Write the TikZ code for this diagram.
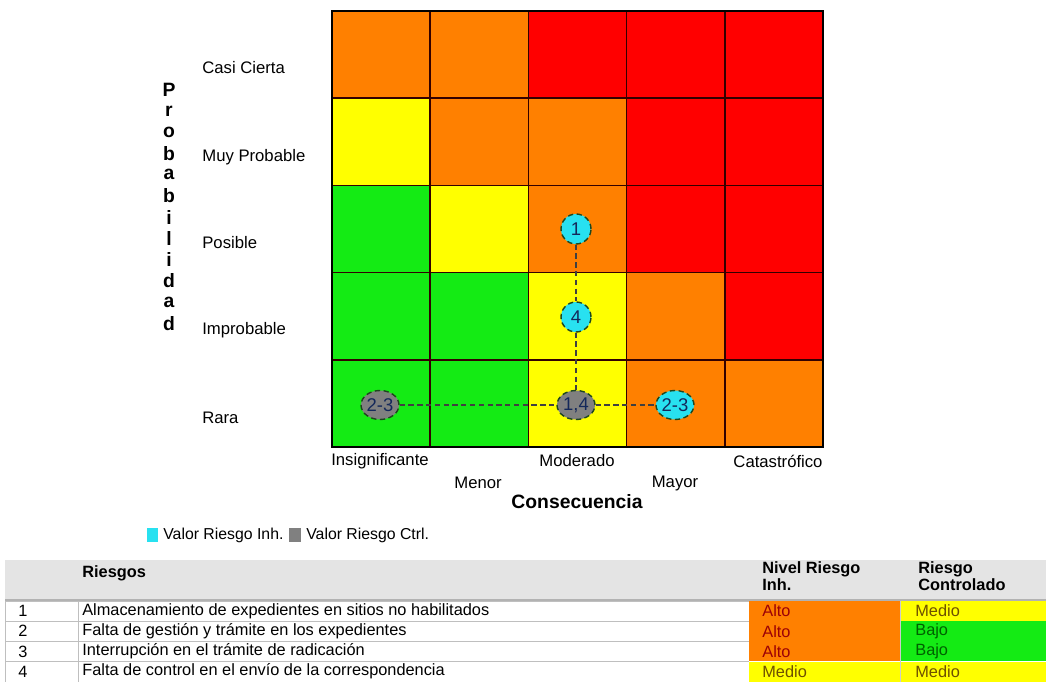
\documentclass[tikz,border=0pt]{standalone}
\usepackage{fontspec}
\setmainfont{Liberation Sans}
\usetikzlibrary{shapes.geometric}
\definecolor{naranja}{RGB}{255,128,0}
\definecolor{rojo}{RGB}{255,0,0}
\definecolor{amarillo}{RGB}{255,255,0}
\definecolor{verde}{RGB}{20,235,20}
\definecolor{cian}{RGB}{40,225,240}
\definecolor{gris}{RGB}{128,128,128}
\definecolor{bandagris}{RGB}{228,228,228}
\definecolor{txtalto}{RGB}{156,0,6}
\definecolor{txtmedio}{RGB}{110,80,0}
\definecolor{txtbajo}{RGB}{0,97,0}
\tikzset{
  lbl/.style={font=\fontsize{9.5}{11}\selectfont,inner sep=0pt},
  tbl/.style={font=\fontsize{9.3}{10}\selectfont,inner sep=0pt,anchor=west},
  tblhead/.style={font=\fontsize{9.3}{10}\selectfont\bfseries,inner sep=0pt,anchor=west,align=left},
  marca/.style={draw={rgb,255:red,30;green,70;blue,30},densely dashed,thick,
                font=\fontsize{10.5}{12}\selectfont,text={rgb,255:red,20;green,40;blue,90},inner sep=0pt},
  redonda/.style={marca,circle,minimum size=0.6cm},
  ovalo/.style={marca,ellipse,minimum width=0.76cm,minimum height=0.58cm}
}
\begin{document}
\begin{tikzpicture}[x=0.02cm,y=-0.02cm]
       \useasboundingbox (0,0) rectangle (1046,682);
       % Color the cells of the matrix, top row first
       \foreach \fila/\lista in {0/{naranja,naranja,rojo,rojo,rojo},
                                 1/{amarillo,naranja,naranja,rojo,rojo},
                                 2/{verde,amarillo,naranja,rojo,rojo},
                                 3/{verde,verde,amarillo,naranja,rojo},
                                 4/{verde,verde,amarillo,naranja,naranja}}
         \foreach \clr [count=\col from 0] in \lista
           \fill[\clr] ({332+\col*98.2},{11+\fila*87.2}) rectangle ++(98.2,87.2);
       % Inner lines and the outline
       \foreach \col in {1,...,4}
         \draw[line width=0.9pt,black!80!red] ({332+\col*98.2},11) -- ({332+\col*98.2},447);
       \foreach \fila in {1,...,4}
         \draw[line width=0.9pt,black!80!red] (332,{11+\fila*87.2}) -- (823,{11+\fila*87.2});
       \draw[line width=1.6pt] (332,11) rectangle (823,447);

       % Probability levels
       \node[lbl,anchor=west] (casi) at (202,68) {Casi Cierta};
       \node[lbl,anchor=west] (muy) at (202,157) {Muy Probable};
       \node[lbl,anchor=west] (posible) at (202,243) {Posible};
       \node[lbl,anchor=west] (improb) at (202,330) {Improbable};
       \node[lbl,anchor=west] (rara) at (202,418) {Rara};
       \foreach \letra [count=\i from 0] in {P,r,o,b,a,b,i,l,i,d,a,d}
         \node[font=\fontsize{11}{12}\selectfont\bfseries,inner sep=0pt] (prob\i) at (169,{90+\i*21.2}) {\letra};

       % Consequence levels
       \node[lbl] (insig) at (380,461) {Insignificante};
       \node[lbl] (menor) at (478,483) {Menor};
       \node[lbl] (moder) at (577,461) {Moderado};
       \node[lbl] (mayor) at (675,483) {Mayor};
       \node[lbl] (catas) at (778,461) {Catastrófico};
       \node[font=\fontsize{11}{13}\selectfont\bfseries,inner sep=0pt] (consec) at (577,502) {Consecuencia};

       % Risk markers
       \node[redonda,fill=cian] (inh1) at (576,229) {1};
       \node[redonda,fill=cian] (inh4) at (576,317) {4};
       \node[ovalo,fill=gris] (ctl14) at (576,405) {1,4};
       \node[ovalo,fill=gris] (ctl23) at (380,405) {2-3};
       \node[ovalo,fill=cian] (inh23) at (675,405) {2-3};
       \draw[densely dashed,thick,black!75] (inh1) -- (inh4) -- (ctl14);
       \draw[densely dashed,thick,black!75] (ctl23) -- (ctl14) -- (inh23);

       % Legend
       \fill[cian] (147,528) rectangle (158,542);
       \node[lbl,anchor=west,font=\fontsize{9}{10}\selectfont] (leginh) at (163,535) {Valor Riesgo Inh.};
       \fill[gris] (289,528) rectangle (301,542);
       \node[lbl,anchor=west,font=\fontsize{9}{10}\selectfont] (legctl) at (306,535) {Valor Riesgo Ctrl.};

       % Table header band
       \fill[bandagris] (5,560) rectangle (1046,600);
       \node[tblhead] (hriesgos) at (82,573) {Riesgos};
       \node[tblhead] (hnivel) at (762,576) {Nivel Riesgo\\Inh.};
       \node[tblhead] (hctrl) at (918,576) {Riesgo\\Controlado};
       % Table rows
       \foreach \n/\txt/\ci/\ti/\tci/\cc/\tc/\tcc [count=\k from 0] in
         {1/Almacenamiento de expedientes en sitios no habilitados/naranja/Alto/txtalto/amarillo/Medio/txtmedio,
          2/Falta de gestión y trámite en los expedientes/naranja/Alto/txtalto/verde/Bajo/txtbajo,
          3/Interrupción en el trámite de radicación/naranja/Alto/txtalto/verde/Bajo/txtbajo,
          4/Falta de control en el envío de la correspondencia/amarillo/Medio/txtmedio/amarillo/Medio/txtmedio}
       {
         \fill[\ci] (749,{601+\k*20.2}) rectangle (900,{621+\k*20.2});
         \fill[\cc] (900,{601+\k*20.2}) rectangle (1046,{621+\k*20.2});
         \draw[gray!50] (5,{601+\k*20.2}) -- (749,{601+\k*20.2});
         \node[tbl] (num\n) at (18,{611+\k*20.2}) {\n};
         \node[tbl] (riesgo\n) at (82,{611+\k*20.2}) {\txt};
         \node[tbl,text=\tci] (inh\n) at (762,{611+\k*20.2}) {\ti};
         \node[tbl,text=\tcc] (ctl\n) at (915,{611+\k*20.2}) {\tc};
       }
       \draw[gray!60,line width=0.8pt] (5,600) -- (1046,600);
       \draw[gray!50] (78,601) -- (78,682);
       \draw[gray!50] (5,601) -- (5,682);
       \draw[gray!40] (900,601) -- (900,682);
\end{tikzpicture}
\end{document}
